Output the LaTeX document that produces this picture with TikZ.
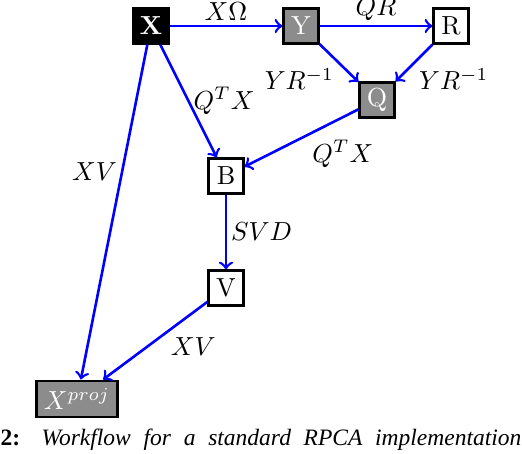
\documentclass[tikz,border=0pt]{standalone}
\usepackage{amssymb}
\usepackage{amsmath}
\usepackage{xcolor}
\usepackage{fontspec}
\usepackage{tikz}
\newfontfamily\capfont{LiberationSerif}[Extension=.ttf,UprightFont=*-Regular,BoldFont=*-Bold,ItalicFont=*-Italic,BoldItalicFont=*-BoldItalic]

\begin{document}
\begin{tikzpicture}[x=0.383pt,y=-0.383pt,>=to,
	box/.style={draw=black,line width=1pt,minimum size=13.2pt,inner sep=0pt},
	darkbox/.style={box,fill=black,text=white},
	graybox/.style={box,fill=black!45,text=white},
	flow/.style={draw=blue,line width=1pt,->},
	lbl/.style={inner sep=1.5pt}]
	 \useasboundingbox (0,0) rectangle (522,454);
	 \node[darkbox] (X) at (151,26) {\textbf{X}};
	 \node[graybox] (Y) at (301,26) {Y};
	 \node[box] (R) at (451,26) {R};
	 \node[graybox] (Q) at (377,100) {Q};
	 \node[box] (B) at (226,176) {B};
	 \node[box] (V) at (226,288) {V};
	 \node[graybox,minimum width=31.2pt,minimum height=13.9pt] (Xp) at (77,399) {$X^{proj}$};
	 \draw[flow] (X) -- node[lbl,midway,above] {$X\Omega$} (Y);
	 \draw[flow] (Y) -- node[lbl,midway,above] {$QR$} (R);
	 \draw[flow] (Y) -- node[lbl,midway,below left] {$YR^{-1}$} (Q);
	 \draw[flow] (R) -- node[lbl,midway,below right] {$YR^{-1}$} (Q);
	 \draw[flow] (X) -- node[lbl,midway,right] {$Q^TX$} (B);
	 \draw[flow] (Q) -- node[lbl,pos=0.45,below right] {$Q^TX$} (B);
	 \draw[flow] (X) -- node[lbl,pos=0.38,left] {$XV$} (Xp);
	 \draw[flow] (B) -- node[lbl,midway,right] {$SVD$} (V);
	 \draw[flow] (V) -- node[lbl,pos=0.4,below right] {$XV$} (Xp);
	 % caption line, cut by the page
	 \node[anchor=base west,inner sep=0pt] (cap) at (0,446) {\capfont\fontsize{9}{11}\selectfont\makebox[199.5pt][s]{\textbf{2:} \textit{Workflow for a standard RPCA implementation}}};
\end{tikzpicture}
\end{document}
